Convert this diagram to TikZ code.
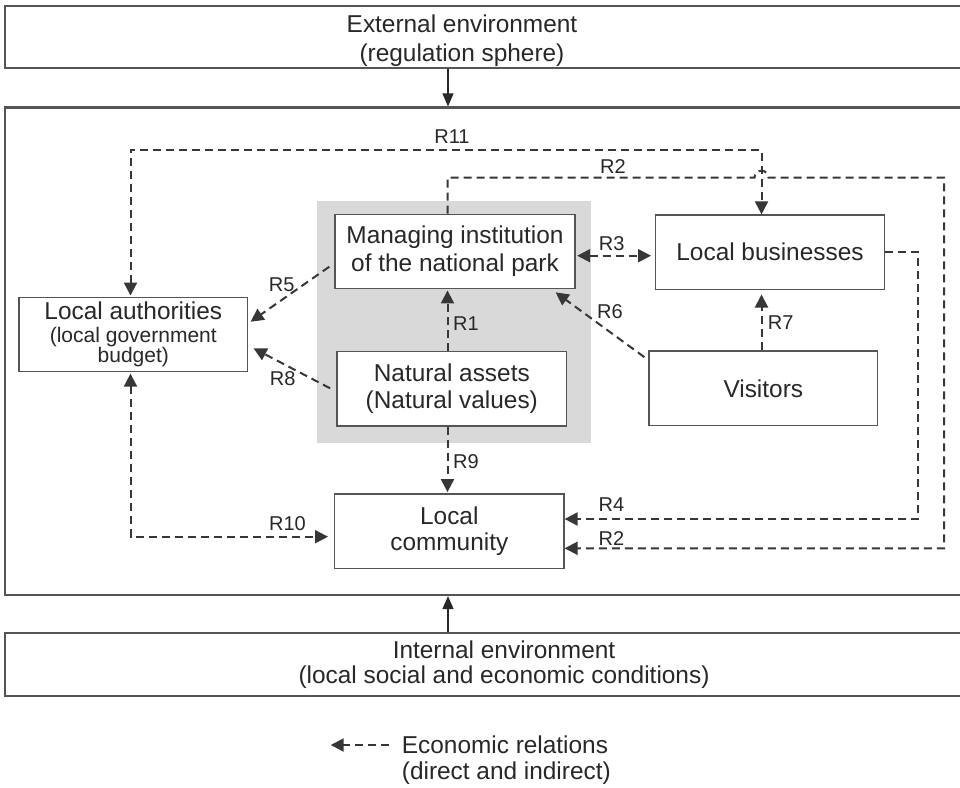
\documentclass[tikz,border=0pt]{standalone}
\usepackage{fontspec}
\setmainfont{Liberation Sans}
\usetikzlibrary{arrows.meta}
\definecolor{parkgray}{RGB}{217,217,217}
\definecolor{ink}{RGB}{40,40,40}
\definecolor{boxline}{RGB}{85,85,85}
\definecolor{dashink}{RGB}{55,55,55}
\newcommand\bigf{\fontsize{24.4}{27.7}\selectfont}
\newcommand\midf{\fontsize{21}{18.5}\selectfont}
\newcommand\labf{\fontsize{20}{22}\selectfont}
\begin{document}
\begin{tikzpicture}[x=1pt,y=-1pt,
  outerbox/.style={draw=boxline, line width=2.2pt, inner sep=0, minimum width=960pt},
  box/.style={draw=boxline, line width=1.3pt, fill=white, inner sep=0, align=center,
    font=\bigf, text=ink, minimum width=229pt, minimum height=74pt},
  txt/.style={inner sep=0, align=center, text=ink},
  rel/.style={draw=dashink, line width=2pt, dash pattern=on 8pt off 5pt,
    -{Triangle[length=13pt,width=13pt]}},
  both/.style={rel, {Triangle[length=13pt,width=13pt]}-{Triangle[length=13pt,width=13pt]}},
  lab/.style={font=\labf, inner sep=0, text=ink},
  solidarrow/.style={draw=ink, line width=1.4pt, -{Triangle[length=13pt,width=11pt]}}
]
\useasboundingbox (0,0) rectangle (960,787);
\clip (0,0) rectangle (960,787);
\fill[white] (0,0) rectangle (960,787);

% outer boxes
\node[outerbox, minimum height=62pt] (ext) at (485,37) {};
\node[txt, font={\fontsize{24.4}{29}\selectfont}] (extt) at (462,40.5) {External environment\\(regulation sphere)};
\node[outerbox, minimum height=487.5pt] (main) at (485,351.25) {};
\node[outerbox, minimum height=63pt] (int) at (485,664.5) {};
\node[txt, font={\fontsize{24.4}{25}\selectfont}] (intt) at (504,664.5) {Internal environment\\(local social and economic conditions)};

\coordinate (ax) at (448,0);
\draw[solidarrow] (ax |- ext.south) -- (ax |- main.north);
\draw[solidarrow] (ax |- int.north) -- (ax |- main.south);

% national park area
\fill[parkgray] (317,201) rectangle (591,443);

% inner boxes
\node[box, minimum width=240pt, minimum height=74pt] (mi) at (455,251.3) {Managing institution\\of the national park};
\node[box, font={\fontsize{24.4}{26.6}\selectfont}, minimum width=229.5pt, minimum height=74.3pt] (na) at (451.8,388.9) {Natural assets\\(Natural values)};
\node[box, font=\midf, minimum width=228.7pt] (la) at (133.3,334.7) {{\bigf Local authorities}\\[3.8pt](local government\\budget)};
\node[box, minimum width=228.6pt, minimum height=74.3pt] (lb) at (770,252.2) {Local businesses};
\node[box, minimum width=228.7pt, minimum height=74.5pt] (vi) at (763.3,388.3) {Visitors};
\node[box, font={\fontsize{24.4}{26.7}\selectfont}, minimum width=229.3pt, minimum height=74.3pt] (lc) at (449.3,531.2) {Local\\community};

% helper coordinates
\coordinate (x130) at (130.5,0);
\coordinate (x447) at (447.5,0);
\coordinate (x761) at (761.5,0);
\coordinate (x918) at (918.3,0);
\coordinate (x944) at (944,0);
\coordinate (y150) at (0,150);
\coordinate (y178) at (0,177.7);
\coordinate (y252) at (0,252.3);
\coordinate (y256) at (0,255.7);
\coordinate (y519) at (0,519);
\coordinate (y537) at (0,536.7);
\coordinate (y548) at (0,548.3);
\coordinate (hop) at (754.5,177.7);

% relations
\draw[both, shorten <=1.5pt] (x130 |- la.north) -- (x130 |- y150) -- (x761 |- y150) -- (x761 |- lb.north);
\draw[rel] (x447 |- mi.north) -- (x447 |- y178) -- (hop) arc[start angle=180, end angle=0, radius=7pt]
  -- (x944 |- y178) -- (x944 |- y548) -- (lc.east |- y548);
\draw[rel] (lb.east |- y252) -- (x918 |- y252) -- (x918 |- y519) -- (lc.east |- y519);
\draw[both, shorten <=1.5pt, shorten >=4pt] (mi.east |- y256) -- (lb.west |- y256);
\draw[rel, shorten >=1.5pt] (x447 |- na.north) -- (x447 |- mi.south);
\draw[rel, shorten >=1.3pt] (x447 |- na.south) -- (x447 |- lc.north);
\draw[rel, shorten >=4.5pt] (x761 |- vi.north) -- (x761 |- lb.south);
\draw[both, shorten <=1.3pt, shorten >=6pt] (x130 |- la.south) -- (x130 |- y537) -- (lc.west |- y537);
\draw[rel] ([shift={(-5,15.4)}]mi.west) -- ([shift={(2.3,-13)}]la.east);
\draw[rel] ([shift={(-6.3,-0.6)}]na.west) -- ([shift={(5.3,13.6)}]la.east);
\draw[rel] ([shift={(-4,6.7)}]vi.north west) -- ([shift={(-20,3.4)}]mi.south east);

% labels
\node[lab] (l11) at (452,137) {R11};
\node[lab] (l2a) at (613,166.7) {R2};
\node[lab] (l3) at (611.7,243.3) {R3};
\node[lab] (l5) at (281.7,285) {R5};
\node[lab] (l6) at (610,311.7) {R6};
\node[lab] (l1) at (466,323.3) {R1};
\node[lab] (l7) at (780.7,322.7) {R7};
\node[lab] (l8) at (282.7,378.3) {R8};
\node[lab] (l9) at (466,461.7) {R9};
\node[lab] (l10) at (287.5,523.3) {R10};
\node[lab] (l4) at (611.5,505) {R4};
\node[lab] (l2b) at (611.5,538.3) {R2};

% legend
\node[txt, align=left, anchor=north west, font={\fontsize{24.4}{26}\selectfont}] (legt) at (401.7,735.7) {Economic relations\\(direct and indirect)};
\coordinate (legA) at (389.3,745);
\coordinate (legB) at (330.7,745);
\draw[rel] (legA) -- (legB);
\end{tikzpicture}
\end{document}
